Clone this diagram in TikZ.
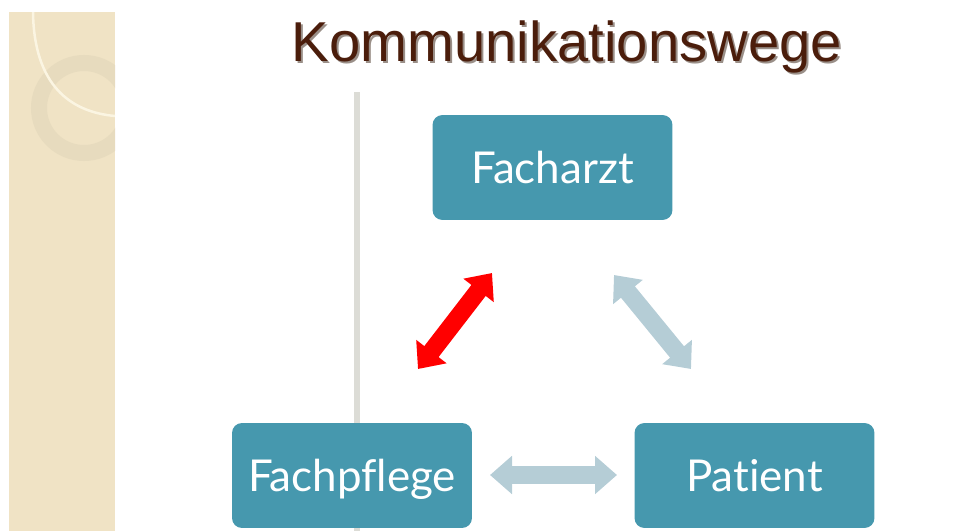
\documentclass[tikz,border=0pt]{standalone}
\usepackage{fontspec}
\setmainfont{Lato}[Ligatures={NoCommon,NoRare}]
\newfontfamily\titlefont{Liberation Sans}
\usetikzlibrary{arrows.meta}
\definecolor{stripbeige}{HTML}{F0E3C5}
\definecolor{ringbeige}{HTML}{E7DBBE}
\definecolor{arccream}{HTML}{FBF5E2}
\definecolor{titlebrown}{HTML}{4B1D0B}
\definecolor{shadowgray}{HTML}{9A8F88}
\definecolor{boxteal}{HTML}{4698AE}
\definecolor{rulegray}{HTML}{DCDCD6}
\definecolor{linkred}{HTML}{FF0000}
\definecolor{linkgray}{HTML}{B5CDD6}
\tikzset{
  title/.style={font=\titlefont\fontsize{32}{36}\selectfont, text=titlebrown, inner sep=0pt},
  titleshade/.style={font=\titlefont\fontsize{32}{36}\selectfont, text=shadowgray, inner sep=0pt},
  role/.style={
    rectangle, rounded corners=0.2cm, fill=boxteal, draw=none,
    minimum width=4.8cm, minimum height=2.1cm, align=center,
    text height=18pt, text depth=0pt,
    font=\fontsize{25}{30}\selectfont, text=white
  },
  link/.style={-{Triangle[length=0.44cm,width=0.74cm]}, line width=0.36cm},
  twoway/.style={link, {Triangle[length=0.44cm,width=0.74cm]}-{Triangle[length=0.44cm,width=0.74cm]}}
}

\begin{document}
\begin{tikzpicture}[x=0.02cm, y=-0.02cm]
\useasboundingbox (0,0) rectangle (957,531);
% side strip
\fill[stripbeige] (9,12) rectangle (115,531);
\begin{scope}
  \clip (9,12) rectangle (115,531);
  \draw[ringbeige, line width=0.32cm] (84,108) circle (45);
  \draw[arccream, line width=0.05cm] (33,12) .. controls (34,85) and (70,112) .. (115,116);
\end{scope}
% title
\node[titleshade, anchor=base] (shade) at (569,63) {Kommunikationswege};
\node[title, anchor=base] (head) at (567,61) {Kommunikationswege};
% divider
\coordinate (ruletop) at (357,92);
\coordinate (rulebot) at (357,531);
\draw[rulegray, line width=0.12cm] (ruletop) -- (rulebot);
% roles
\node[role] (arzt) at (552.5,167.5) {Facharzt};
\node[role] (pflege) at (352,475.5) {Fachpflege};
\node[role] (patient) at (754.5,475.5) {Patient};
% communication links
\coordinate (pf1) at (418,369);
\coordinate (ar1) at (492,273);
\coordinate (ar2) at (614,275);
\coordinate (pa1) at (691,369);
\coordinate (pf2) at (490,475);
\coordinate (pa2) at (617,475);
\draw[twoway, linkred] (pf1) -- (ar1);
\draw[twoway, linkgray] (ar2) -- (pa1);
\draw[twoway, linkgray] (pf2) -- (pa2);
\end{tikzpicture}
\end{document}
